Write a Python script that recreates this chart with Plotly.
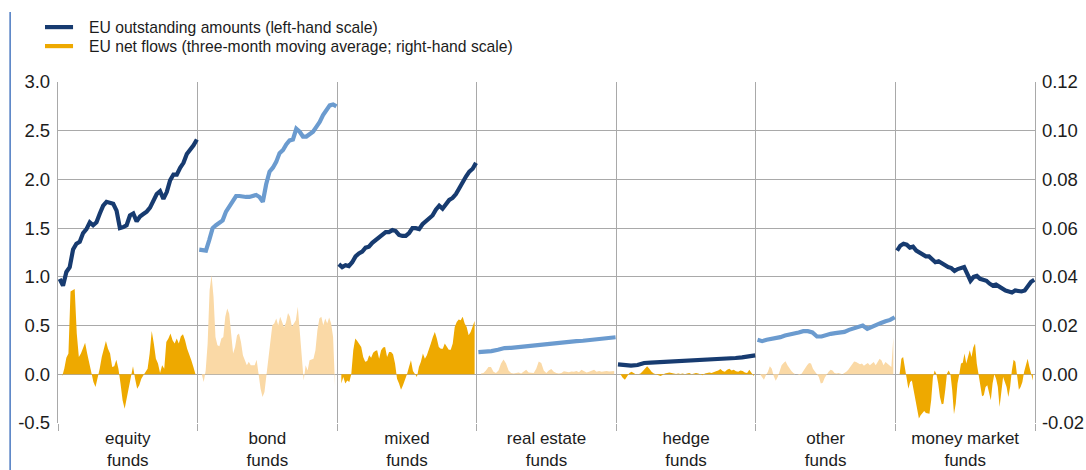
import numpy as np
import plotly.graph_objects as go

# Fund categories shown as consecutive panels
categories = ["equity<br>funds", "bond<br>funds", "mixed<br>funds", "real estate<br>funds",
              "hedge<br>funds", "other<br>funds", "money market<br>funds"]

# Axis ticks (left: amounts, right: flows)
left_ticks = [-0.5, 0.0, 0.5, 1.0, 1.5, 2.0, 2.5, 3.0]
left_labels = ["-0.5", "0.0", "0.5", "1.0", "1.5", "2.0", "2.5", "3.0"]
right_ticks = [-0.02, 0.0, 0.02, 0.04, 0.06, 0.08, 0.10, 0.12]
right_labels = ["-0.02", "0.00", "0.02", "0.04", "0.06", "0.08", "0.10", "0.12"]

# EU outstanding amounts, EUR trillions (left-hand scale)
equity_amt = [0.98, 0.91, 1.05, 1.10, 1.28, 1.34, 1.36, 1.45, 1.49, 1.56, 1.53, 1.56, 1.65, 1.73,
              1.77, 1.76, 1.75, 1.68, 1.50, 1.51, 1.53, 1.63, 1.65, 1.57, 1.62, 1.645, 1.67, 1.71,
              1.77, 1.85, 1.88, 1.80, 1.87, 1.99, 2.05, 2.05, 2.12, 2.17, 2.26, 2.30, 2.35, 2.41]
bond_amt = [1.28, 1.28, 1.27, 1.38, 1.50, 1.53, 1.55, 1.58, 1.67, 1.72, 1.77, 1.83, 1.83, 1.82,
            1.82, 1.82, 1.83, 1.84, 1.82, 1.77, 1.95, 2.08, 2.12, 2.18, 2.27, 2.30, 2.36, 2.40,
            2.41, 2.52, 2.49, 2.44, 2.44, 2.46, 2.49, 2.54, 2.59, 2.66, 2.72, 2.76, 2.77, 2.75]
mixed_amt = [1.13, 1.10, 1.12, 1.11, 1.15, 1.21, 1.24, 1.26, 1.30, 1.31, 1.35, 1.38, 1.41, 1.44,
             1.46, 1.46, 1.48, 1.47, 1.43, 1.42, 1.42, 1.45, 1.50, 1.50, 1.49, 1.54, 1.57, 1.59,
             1.63, 1.69, 1.73, 1.70, 1.75, 1.79, 1.81, 1.85, 1.91, 1.98, 2.03, 2.08, 2.11, 2.17]
realestate_amt = [0.228, 0.228, 0.238, 0.252, 0.269, 0.272, 0.279, 0.282, 0.289, 0.303, 0.31,
                  0.32, 0.323, 0.33, 0.333, 0.34, 0.344, 0.35, 0.357, 0.364, 0.374, 0.38]
hedge_amt = [0.102, 0.092, 0.088, 0.095, 0.116, 0.119, 0.122, 0.126, 0.129, 0.133, 0.133, 0.136,
             0.139, 0.143, 0.146, 0.15, 0.156, 0.16, 0.167, 0.173, 0.187, 0.194]
other_amt = [0.354, 0.34, 0.354, 0.364, 0.364, 0.381, 0.398, 0.412, 0.418, 0.429, 0.442, 0.442,
             0.429, 0.388, 0.388, 0.405, 0.415, 0.422, 0.425, 0.435, 0.456, 0.469, 0.483, 0.50,
             0.466, 0.49, 0.51, 0.527, 0.544, 0.558, 0.585]
mmf_amt = [1.27, 1.32, 1.34, 1.33, 1.30, 1.31, 1.27, 1.25, 1.22, 1.21, 1.21, 1.18, 1.15, 1.16,
           1.14, 1.11, 1.10, 1.09, 1.06, 1.08, 1.09, 1.10, 1.03, 0.96, 1.00, 1.01, 0.98, 0.97,
           0.96, 0.93, 0.91, 0.92, 0.90, 0.87, 0.86, 0.85, 0.84, 0.86, 0.85, 0.85, 0.86, 0.90,
           0.95, 0.97]

# EU net flows, three-month moving average, EUR trillions (right-hand scale)
equity_flow = [-0.0008, 0.0023, 0.0068, 0.0085, 0.034, 0.0345, 0.035, 0.0167, 0.0071, 0.0085,
               0.0112, 0.0129, 0.0085, 0.0044, 0.0, -0.0032, -0.0052, -0.0018, 0.0023, 0.0071,
               0.0105, 0.0137, 0.0105, 0.0085, 0.003, 0.0033, 0.006, 0.0023, -0.0038, -0.0107,
               -0.0141, -0.01, -0.0052, -0.0011, 0.0033, -0.0018, -0.0059, -0.0045, -0.0018,
               -0.0004, 0.001, 0.0023, 0.0085, 0.0178, 0.0126, 0.0064, 0.0044, 0.0005, 0.0037,
               0.0023, 0.0133, 0.0147, 0.0167, 0.014, 0.0126, 0.0147, 0.0126, 0.0156, 0.0164,
               0.014, 0.0105, 0.0085, 0.0058, 0.003, 0.0]
bond_flow = [0.0, -0.0032, 0.0016, 0.0126, 0.0345, 0.0407, 0.0318, 0.0153, 0.0119, 0.0115,
             0.0147, 0.0153, 0.0236, 0.027, 0.0249, 0.0153, 0.0085, 0.0112, 0.016, 0.0167,
             0.0133, 0.0078, 0.0058, 0.0037, 0.0051, 0.0037, 0.0037, 0.0037, 0.006, -0.0004,
             -0.0059, -0.0093, -0.0073, -0.0004, 0.0071, 0.014, 0.0201, 0.0208, 0.0229, 0.0201,
             0.0236, 0.0215, 0.0192, 0.0215, 0.0252, 0.0236, 0.0195, 0.0208, 0.0222, 0.0277,
             0.0181, 0.0085, -0.0025, 0.0037, 0.0016, 0.0058, 0.006, 0.0064, 0.0099, 0.0181,
             0.0229, 0.0236, 0.0201, 0.0229, 0.0208, 0.0233, 0.0208, 0.0153, -0.005]
mixed_flow = [-0.0038, -0.0011, -0.0038, -0.0025, -0.0032, 0.0, 0.0099, 0.0147, 0.0137, 0.0126,
              0.0112, 0.0071, 0.0051, 0.0055, 0.0078, 0.0068, 0.0088, 0.0096, 0.0099, 0.0064,
              0.0099, 0.011, 0.0112, 0.0071, 0.0092, 0.0092, 0.0082, 0.0044, -0.0018, -0.0038,
              -0.0063, -0.0045, -0.0025, 0.0, 0.003, 0.0058, 0.0014, 0.0, -0.0011, 0.003, 0.0051,
              0.0085, 0.0064, 0.0078, 0.0099, 0.0126, 0.0153, 0.0174, 0.0147, 0.0112, 0.0105,
              0.0105, 0.0126, 0.0112, 0.0101, 0.0101, 0.0126, 0.0194, 0.0215, 0.0225, 0.0222,
              0.0236, 0.0208, 0.0194, 0.016, 0.0174, 0.0201, 0.0219]
realestate_flow = [0.0003, 0.0005, 0.0016, 0.003, 0.003, 0.001, 0.0005, 0.0016, 0.0044, 0.0061,
                   0.0044, 0.0016, 0.0005, 0.0003, 0.0005, 0.0007, 0.0003, 0.0012, 0.0019, 0.0007,
                   0.0005, 0.0005, 0.0023, 0.0052, 0.0046, 0.0016, 0.0005, 0.0016, 0.0022, 0.001,
                   0.0005, 0.0003, 0.0005, 0.0012, 0.001, 0.0008, 0.0011, 0.001, 0.0014, 0.0008,
                   0.0019, 0.0014, 0.0007, 0.001, 0.0014, 0.0019, 0.001, 0.0014, 0.001, 0.0012,
                   0.0014, 0.0011, 0.0014, 0.0014]
hedge_flow = [0.0, -0.0014, -0.0022, -0.0008, 0.0005, 0.001, 0.0003, -0.0001, 0.0, 0.0003,
              0.0012, 0.0023, 0.0033, 0.0023, 0.001, 0.0003, -0.0001, -0.0004, -0.0007, -0.0003,
              0.0003, 0.0005, 0.0007, 0.0005, 0.0003, 0.0001, 0.0003, 0.0001, 0.0003, 0.0,
              0.0003, 0.0005, 0.0, 0.0003, 0.0005, 0.0003, 0.0, -0.0004, 0.0003, 0.0005, 0.0007,
              0.0005, 0.001, 0.0012, 0.0016, 0.0022, 0.0014, 0.001, 0.0019, 0.0023, 0.0016,
              0.0019, 0.0012, 0.001, 0.0016, 0.0014, 0.0007, 0.0005, 0.0019, 0.0005, -0.0008]
other_flow = [0.0, -0.0011, -0.0022, -0.0004, 0.001, 0.0033, 0.0023, -0.0008, -0.0027, -0.0011,
              0.0016, 0.0037, 0.0046, 0.0054, 0.0037, 0.0023, 0.0014, 0.0005, 0.0, 0.0, -0.0003,
              0.0, 0.0014, 0.0027, 0.0037, 0.0046, 0.0044, 0.0023, 0.001, 0.0, -0.0011, -0.0038,
              -0.0035, -0.0014, 0.0, 0.001, 0.0019, 0.0016, 0.0005, 0.0003, 0.0005, 0.0003, 0.0,
              0.0005, 0.001, 0.0019, 0.003, 0.0044, 0.0053, 0.005, 0.0046, 0.0041, 0.0044,
              0.0035, 0.0041, 0.0046, 0.0037, 0.0044, 0.005, 0.0037, 0.005, 0.0064, 0.0057,
              0.0037, 0.005, 0.0044, 0.0037, 0.003, 0.0152]
mmf_flow = [0.0, 0.0064, 0.0071, 0.003, -0.0018, -0.0059, -0.0032, -0.0025, -0.0066, -0.0107,
            -0.0148, -0.0182, -0.0168, -0.0159, -0.0151, -0.0159, -0.0162, -0.0162, -0.0107,
            -0.0011, 0.0016, 0.0, -0.0038, -0.0093, -0.0123, -0.0121, -0.0066, 0.0003, 0.0016,
            0.0, -0.0066, -0.0164, -0.0121, -0.0038, 0.0, 0.0044, 0.0047, 0.0085, 0.0044, 0.0071,
            0.0099, 0.0071, 0.011, 0.0126, 0.0044, 0.0, -0.0052, -0.009, -0.0086, -0.0052,
            -0.0045, -0.0079, -0.0107, -0.0038, 0.0, -0.0018, -0.0052, -0.0134, -0.0066, -0.0011,
            -0.0032, -0.0052, -0.0093, -0.0052, 0.0016, 0.006, 0.0051, -0.0011, -0.0063, -0.0052,
            -0.0032, 0.001, 0.0044, 0.0064, 0.003, 0.0, -0.0025]

amounts = [equity_amt, bond_amt, mixed_amt, realestate_amt, hedge_amt, other_amt, mmf_amt]
flows = [equity_flow, bond_flow, mixed_flow, realestate_flow, hedge_flow, other_flow, mmf_flow]

legend_labels = ["EU outstanding amounts (left-hand scale)",
                 "EU net flows (three-month moving average; right-hand scale)"]

DARK_BLUE = "#173b70"
LIGHT_BLUE = "#6b9bcf"
GOLD = "#eea900"
LIGHT_GOLD = "#fad9a6"
GRID = "#a9a9a9"
TEXT = "#1c1c1c"
FONT = "Liberation Sans, Arial, sans-serif"

fig = go.Figure()

# Flows (areas) first, so the stock lines sit on top
for k, fl in enumerate(flows):
    xs = k + np.linspace(0.03, 0.985, len(fl))
    fig.add_trace(go.Scatter(
        x=xs, y=fl, yaxis="y2", mode="lines", fill="tozeroy",
        line=dict(width=0, color=GOLD if k % 2 == 0 else LIGHT_GOLD),
        fillcolor=GOLD if k % 2 == 0 else LIGHT_GOLD,
        showlegend=False, hoverinfo="skip"))

for k, amt in enumerate(amounts):
    xs = k + np.linspace(0.012, 0.995, len(amt))
    fig.add_trace(go.Scatter(
        x=xs, y=amt, mode="lines",
        line=dict(width=4.2, color=DARK_BLUE if k % 2 == 0 else LIGHT_BLUE),
        showlegend=False, hoverinfo="skip"))

# Key: short coloured strokes with their labels above the plot
shapes = []
annotations = []
for i, (lab, col) in enumerate(zip(legend_labels, [DARK_BLUE, GOLD])):
    yk = 1.161 - i * 0.0557
    shapes.append(dict(type="line", xref="paper", yref="paper",
                       x0=-0.0133, x1=0.0154, y0=yk, y1=yk,
                       line=dict(color=col, width=4.2)))
    annotations.append(dict(xref="paper", yref="paper", x=0.0297, y=yk,
                            xanchor="left", yanchor="middle", showarrow=False,
                            text=lab, font=dict(size=15.7, color=TEXT)))

# Thin frame rule at the left edge
shapes.append(dict(type="line", xref="paper", yref="paper",
                   x0=-0.049, x1=-0.049, y0=-0.2, y1=1.205,
                   line=dict(color="#4a78c0", width=1.5)))

fig.update_layout(
    width=1086, height=470,
    margin=dict(l=58, r=51, t=82, b=47, autoexpand=False),
    paper_bgcolor="white", plot_bgcolor="white",
    font=dict(family=FONT, size=18.5, color=TEXT),
    showlegend=False,
    xaxis=dict(
        range=[0, 7], tickmode="array",
        tickvals=[k + 0.5 for k in range(7)], ticktext=categories,
        ticks="", showgrid=False, zeroline=False, showline=False,
        automargin=False, ticklabelstandoff=3,
        tickfont=dict(size=17),
        minor=dict(tickmode="array", tickvals=list(range(8)), showgrid=True,
                   gridcolor=GRID, gridwidth=1.4, ticks="outside", ticklen=7,
                   tickcolor=GRID, tickwidth=1.4),
    ),
    yaxis=dict(
        range=[-0.5, 3.0], tickmode="array", tickvals=left_ticks, ticktext=left_labels,
        showgrid=True, gridcolor=GRID, gridwidth=1.4,
        zeroline=False, showline=True, linecolor=GRID, linewidth=1.4,
        automargin=False, ticklabelstandoff=3,
    ),
    yaxis2=dict(
        range=[-0.02, 0.12], tickmode="array", tickvals=right_ticks, ticktext=right_labels,
        overlaying="y", side="right", showgrid=False,
        zeroline=False, showline=True, linecolor=GRID, linewidth=1.4,
        automargin=False, ticklabelstandoff=2,
    ),
    shapes=shapes,
    annotations=annotations,
)

fig.write_html("out.html")
